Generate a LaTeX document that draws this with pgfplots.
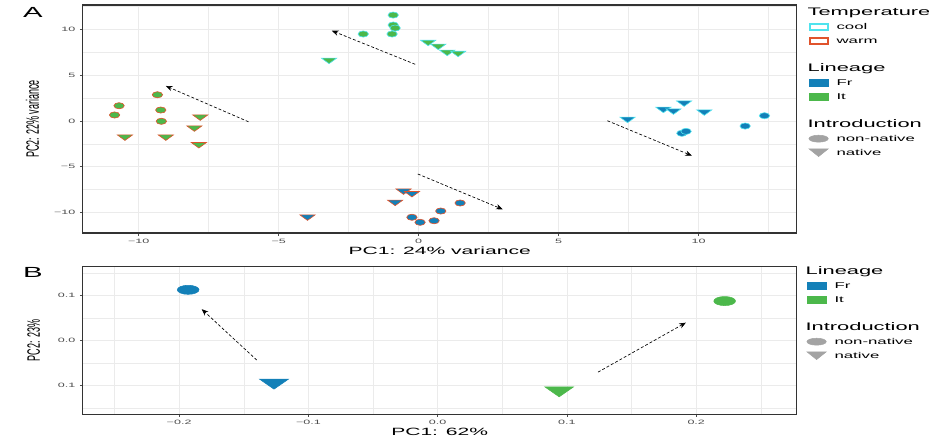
\documentclass[border=0pt]{standalone}
\usepackage{fontspec}
\setmainfont{Liberation Sans}[FakeStretch=2]
\newfontfamily\plainsans{Liberation Sans}
\usepackage{graphicx}
\usepackage{pgfplots}
\pgfplotsset{compat=1.18}
\usetikzlibrary{arrows.meta}

\definecolor{fr}{HTML}{1380B8}
\definecolor{it}{HTML}{4CB84B}
\definecolor{cool}{HTML}{4FE3EE}
\definecolor{warm}{HTML}{E0532C}
\definecolor{leggray}{HTML}{A3A3A3}
\definecolor{gridc}{HTML}{EBEBEB}
\definecolor{tickc}{HTML}{4D4D4D}

\pgfplotsset{
  pcabase/.style={
    scale only axis, width=535.5pt,
    axis line style={black!80, line width=0.8pt},
    grid=both,
    major grid style={gridc, line width=0.6pt},
    minor grid style={gridc, line width=0.3pt},
    xtick pos=bottom, ytick pos=left,
    tick align=outside, major tick length=2pt, minor tick length=0pt,
    tick style={black!70, line width=0.4pt},
    ticklabel style={font=\fontsize{4.7}{5.5}\selectfont, text=tickc},
    xticklabel style={yshift=1pt},
    xlabel style={at={(axis description cs:0.5,0)}, anchor=center, font=\fontsize{7.9}{9}\selectfont},
    ylabel style={at={(axis description cs:0,0.5)}, anchor=center},
    legend cell align=left,
    legend style={draw=none, fill=none, inner sep=0pt, outer sep=0pt,
      row sep=0pt, column sep=5pt, font=\fontsize{6.3}{7}\selectfont,
      nodes={inner sep=1pt, text height=6.25pt, text depth=2.25pt}},
  },
  acirc/.style 2 args={only marks, forget plot, mark=*, mark size=2.3pt,
    mark options={xscale=1.7, line width=0.45pt, draw=#1, fill=#2}},
  atri/.style 2 args={only marks, forget plot, mark=triangle*, mark size=2.75pt,
    mark options={rotate=180, xscale=2.4, line width=0.45pt, draw=#1, fill=#2}},
  bcirc/.style={only marks, forget plot, mark=*, mark size=3.4pt,
    mark options={xscale=2.4, draw=#1, fill=#1}},
  btri/.style={only marks, forget plot, mark=triangle*, mark size=5pt,
    mark options={rotate=180, xscale=2.5, draw=#1, fill=#1}},
  darrow/.style={forget plot, black, line width=0.5pt, dash pattern=on 2.2pt off 1.5pt,
    -{Stealth[length=5pt, width=4pt]}},
  ltitle/.style={legend image code/.code={\node[overlay, anchor=west, inner sep=0pt,
    text height=6pt, text depth=1.5pt, font=\fontsize{8.2}{9}\selectfont] at (-1pt,0pt) {#1};}},
  lsquare/.style={legend image code/.code={\draw[#1, line width=1.4pt, fill=white] (0.5pt,-2.3pt) rectangle (14pt,2.3pt);}},
  lfill/.style={legend image code/.code={\fill[#1] (0pt,-2.6pt) rectangle (14.5pt,2.6pt);}},
  lcirc/.style={legend image code/.code={\fill[leggray] (7.25pt,0pt) ellipse [x radius=7.25pt, y radius=2.6pt];}},
  ltri/.style={legend image code/.code={\fill[leggray] (0pt,2.9pt) -- (14.5pt,2.9pt) -- (7.25pt,-2.9pt) -- cycle;}},
}

\begin{document}
\begin{tikzpicture}
\useasboundingbox (0pt,0pt) rectangle (696.75pt,-330pt);

% ---------------- Panel A ----------------
\begin{axis}[pcabase, at={(62pt,-3.75pt)}, anchor=north west, height=171pt,
  xmin=-12, xmax=13.5, ymin=-12.24, ymax=12.68,
  xtick={-10,-5,0,5,10}, xticklabels={−10,−5,0,5,10},
  ytick={-10,-5,0,5,10}, yticklabels={−10,−5,0,5,10},
  minor xtick={-7.5,-2.5,2.5,7.5,12.5}, minor ytick={-7.5,-2.5,2.5,7.5,12.5},
  xlabel={PC1: 24\% variance}, xlabel style={yshift=-13pt},
  ylabel={\plainsans\fontsize{6.75}{8}\selectfont\scalebox{1}[2]{PC2: 22\% variance}},
  ylabel style={yshift=37.7pt},
  legend style={at={(1,1)}, anchor=north west, xshift=9pt, yshift=-0.5pt},
]
% It, cool
\addplot[acirc={cool}{it}] coordinates {(-0.91,11.58) (-0.91,10.49) (-0.84,10.16) (-1.98,9.51) (-0.95,9.51)};
\addplot[atri={cool}{it}] coordinates {(-3.2,6.67) (0.34,8.63) (0.7,8.2) (1.02,7.54) (1.41,7.43)};
% It, warm
\addplot[acirc={warm}{it}] coordinates {(-10.70,1.67) (-10.86,0.66) (-9.33,2.87) (-9.21,1.2) (-9.19,-0.03)};
\addplot[atri={warm}{it}] coordinates {(-10.49,-1.72) (-9.03,-1.72) (-7.80,0.47) (-8.01,-0.73) (-7.85,-2.55)};
% Fr, warm
\addplot[acirc={warm}{fr}] coordinates {(-0.24,-10.52) (0.05,-11.07) (0.55,-10.9) (0.79,-9.84) (1.48,-8.96)};
\addplot[atri={warm}{fr}] coordinates {(-3.97,-10.46) (-0.84,-8.85) (-0.54,-7.62) (-0.24,-7.9)};
% Fr, cool
\addplot[acirc={cool}{fr}] coordinates {(9.4,-1.34) (9.55,-1.13) (11.66,-0.55) (12.35,0.58)};
\addplot[atri={cool}{fr}] coordinates {(7.46,0.22) (8.74,1.31) (9.1,1.13) (9.48,2.0) (10.2,1.02)};
% arrows
\addplot[darrow] coordinates {(-0.125,6.2) (-3.1,9.87)};
\addplot[darrow] coordinates {(-6.08,-0.08) (-9.03,3.83)};
\addplot[darrow] coordinates {(6.74,0.03) (9.76,-3.79)};
\addplot[darrow] coordinates {(-0.03,-5.79) (3.0,-9.65)};
% legend
\addlegendimage{ltitle={Temperature}}\addlegendentry{}
\addlegendimage{lsquare=cool}\addlegendentry{cool}
\addlegendimage{lsquare=warm}\addlegendentry{warm}
\addlegendimage{empty legend}\addlegendentry{}
\addlegendimage{ltitle={Lineage}}\addlegendentry{}
\addlegendimage{lfill=fr}\addlegendentry{Fr}
\addlegendimage{lfill=it}\addlegendentry{It}
\addlegendimage{empty legend}\addlegendentry{}
\addlegendimage{ltitle={Introduction}}\addlegendentry{}
\addlegendimage{lcirc}\addlegendentry{non-native}
\addlegendimage{ltri}\addlegendentry{native}
\end{axis}

% ---------------- Panel B ----------------
\begin{axis}[pcabase, at={(62pt,-200pt)}, anchor=north west, height=110.7pt,
  xmin=-0.2746, xmax=0.2777, ymin=-0.1636, ymax=0.1644,
  xtick={-0.2,-0.1,0,0.1,0.2}, xticklabels={−0.2,−0.1,0.0,0.1,0.2},
  ytick={-0.1,0,0.1}, yticklabels={0.1,0.0,0.1},
  minor xtick={-0.25,-0.15,-0.05,0.05,0.15,0.25}, minor ytick={-0.15,-0.05,0.05,0.15},
  xlabel={PC1: 62\%}, xlabel style={yshift=-13.5pt},
  ylabel={\plainsans\fontsize{6.75}{8}\selectfont\scalebox{1}[2]{PC2: 23\%}},
  ylabel style={yshift=36.75pt},
  legend style={at={(1,1)}, anchor=north west, xshift=7.5pt, yshift=1.5pt},
]
\addplot[bcirc=fr] coordinates {(-0.193,0.113)};
\addplot[btri=fr] coordinates {(-0.1266,-0.093)};
\addplot[btri=it] coordinates {(0.094,-0.11)};
\addplot[bcirc=it] coordinates {(0.222,0.088)};
\addplot[darrow] coordinates {(-0.14,-0.043) (-0.1825,0.07)};
\addplot[darrow] coordinates {(0.124,-0.07) (0.192,0.04)};
\addlegendimage{ltitle={Lineage}}\addlegendentry{}
\addlegendimage{lfill=fr}\addlegendentry{Fr}
\addlegendimage{lfill=it}\addlegendentry{It}
\addlegendimage{empty legend}\addlegendentry{}
\addlegendimage{ltitle={Introduction}}\addlegendentry{}
\addlegendimage{lcirc}\addlegendentry{non-native}
\addlegendimage{ltri}\addlegendentry{native}
\end{axis}

\node[font=\fontsize{11}{12}\selectfont] at (24.75pt,-9pt) {A};
\node[font=\fontsize{11}{12}\selectfont] at (24.75pt,-204pt) {B};
\end{tikzpicture}
\end{document}
